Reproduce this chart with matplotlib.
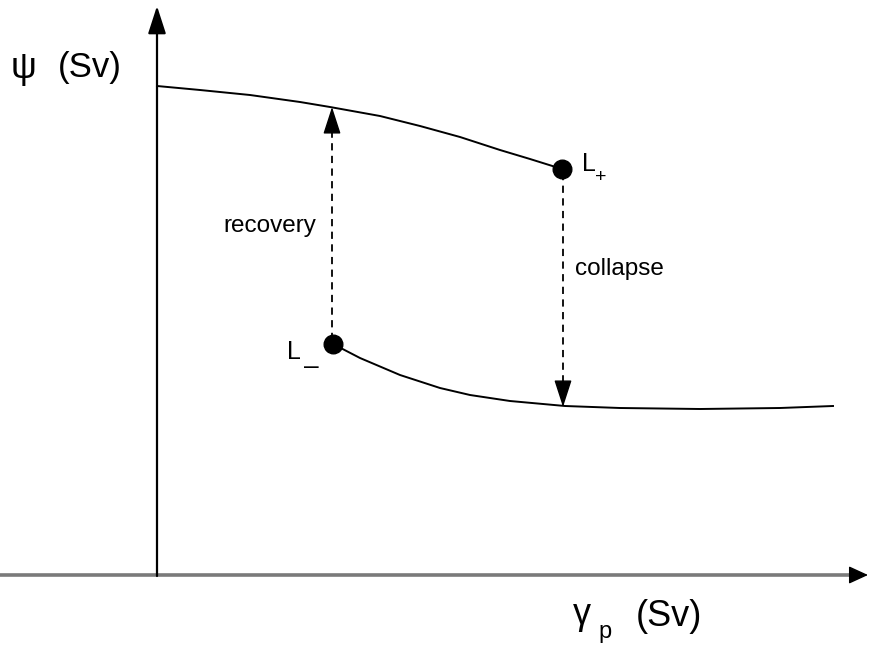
"""Schematic hysteresis diagram: overturning psi vs freshwater forcing gamma_p"""

from matplotlib import pyplot as plt

# schematic coordinates (pixel-like units, y grows downwards)
upper_x = [157, 200, 250, 300, 330, 380, 420, 460, 500, 530, 562]
upper_y = [86, 90, 95, 102, 107, 116, 126, 137, 150, 159, 169]
lower_x = [333, 360, 400, 440, 470, 510, 565, 620, 700, 780, 833]
lower_y = [344, 358, 375, 388, 395, 401, 406, 408, 409, 408, 406]
fold_x = [333, 562]
fold_y = [344, 169]

plt.rcParams["font.family"] = ["Liberation Sans", "DejaVu Sans"]

fig = plt.figure(figsize=(8.69, 6.49), dpi=100)
ax = fig.add_axes([0, 0, 1, 1])
ax.set_xlim(0, 869)
ax.set_ylim(649, 0)
ax.axis("off")


def arrow(x0, y0, x1, y1, color="black", lw=1.5, hl=17, hw=5.5):
    """Straight arrow with a filled head, head sizes in points"""
    ax.annotate("", xy=(x1, y1), xytext=(x0, y0),
                arrowprops=dict(arrowstyle=f"-|>,head_length={hl},head_width={hw}",
                                mutation_scale=1, color=color, lw=lw,
                                shrinkA=0, shrinkB=0))


def dashed_arrow(x, y0, y1, head=24):
    """Vertical dashed shaft with a solid head at y1"""
    step = head if y1 > y0 else -head
    ax.plot([x, x], [y0, y1 - step], color="black", lw=1.3, ls=(0, (4, 3)))
    arrow(x, y1 - step - 0.5 * step / abs(step), x, y1, lw=1.0, hl=17, hw=5.5)


# axes: grey x shaft with a black head, black y axis
ax.plot([0, 852], [575, 575], color="#7a7a7a", lw=2.6, solid_capstyle="butt")
arrow(850, 575, 868, 575, lw=1.0, hl=12, hw=5.5)
arrow(157, 576, 157, 6, lw=1.6, hl=17, hw=5.5)

# equilibrium branches
ax.plot(upper_x, upper_y, color="black", lw=1.4)
ax.plot(lower_x, lower_y, color="black", lw=1.4)

# transitions
dashed_arrow(332, 340, 107)
dashed_arrow(563, 173, 407)

# fold points
ax.scatter(fold_x, fold_y, s=180, color="black", zorder=5)

ax.text(270, 226, "recovery", fontsize=17.5, ha="center", va="center")
ax.text(619, 269, "collapse", fontsize=17.5, ha="center", va="center")
ax.text(582, 164, "L", fontsize=18, ha="left", va="center")
ax.text(601, 177, "+", fontsize=14, ha="center", va="center")
ax.text(287, 352, "L", fontsize=18, ha="left", va="center")
ax.text(311, 367, "\u2013", fontsize=19, ha="center", va="center")

ax.text(11, 68, "\u03c8", fontsize=26, ha="left", va="center")
ax.text(58, 67, "(Sv)", fontsize=25, ha="left", va="center")
ax.text(573, 614, "\u03b3", fontsize=26, ha="left", va="center")
ax.text(598, 632, "p", fontsize=17, ha="left", va="center")
ax.text(636, 617, "(Sv)", fontsize=26, ha="left", va="center")

fig.savefig("out.png", dpi=100)
plt.close()
